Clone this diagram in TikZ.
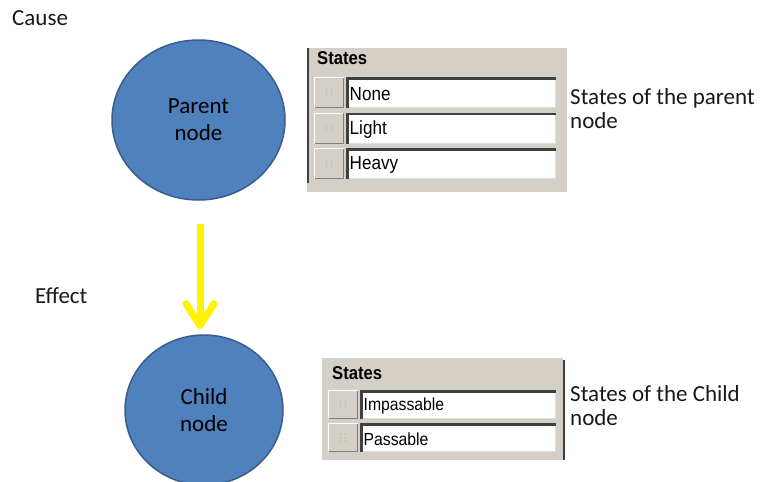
\documentclass[tikz,border=0pt]{standalone}
\usepackage{fontspec}
\setmainfont{Carlito}
\newfontfamily\panelfont[FakeStretch=0.9]{Liberation Sans}
\usepackage{tikz}
\usetikzlibrary{positioning,shapes.geometric,arrows.meta}

\definecolor{nodeblue}{HTML}{4F81BD}
\definecolor{nodeedge}{HTML}{385D8A}
\definecolor{panelgray}{HTML}{D4D0C8}
\definecolor{bevel}{HTML}{404040}

% one row of a states list: name, x, y, height, font size, text
\newcommand{\staterow}[6]{%
  \fill[panelgray] (#2,#3) rectangle ++(30,#4);
  \draw[white, line width=1pt] (#2+0.5,#3+#4) -- (#2+0.5,#3+0.5) -- (#2+30,#3+0.5);
  \draw[gray, line width=1pt] (#2+0.5,#3+#4-0.5) -- (#2+29.5,#3+#4-0.5) -- (#2+29.5,#3+0.5);
  \foreach \dx in {-2.5,2.5}
    \foreach \dy in {-3.5,0,3.5}
      \fill[gray!55] (#2+15+\dx,#3+#4/2+\dy) circle (0.9pt);
  \fill[white] (#2+32,#3) rectangle (556,#3+#4);
  \draw[panelgray!70!white, line width=1pt] (#2+32,#3+#4-0.5) -- (555.5,#3+#4-0.5) -- (555.5,#3);
  \draw[bevel, line width=2.5pt] (#2+33.25,#3+#4) -- (#2+33.25,#3+1.25) -- (556,#3+1.25);
  \node[rowtext, font=\panelfont\fontsize{#5}{#5}\selectfont, anchor=west] (#1) at (#2+35.5,#3+#4/2+1.5) {#6};
}

\begin{document}
\begin{tikzpicture}[x=1pt, y=-1pt,
    bnode/.style={ellipse, fill=nodeblue, draw=nodeedge, line width=1.5pt,
      align=center, text=black, font=\fontsize{23}{27}\selectfont},
    caption/.style={inner sep=0pt, text=black!90, font=\fontsize{23}{24}\selectfont, align=left},
    rowtext/.style={inner sep=0pt, text=black},
    paneltitle/.style={inner sep=0pt, font=\panelfont\bfseries\fontsize{18.5}{20}\selectfont},
    causal/.style={draw=yellow, line width=7pt,
      -{Straight Barb[length=22pt,width=28pt,round]}}]
  \useasboundingbox (0,0) rectangle (761,482);

  % nodes and arrow
  \node[bnode, minimum width=173pt, minimum height=160pt] (parent) at (198.5,120) {Parent\\node};
  \node[bnode, minimum width=158pt, minimum height=150pt] (child) at (204,410) {Child\\node};
  \draw[causal] ([xshift=1.5pt,yshift=-23pt]parent.south) -- ([xshift=-4pt,yshift=5pt]child.north);

  \node[caption, anchor=west] (cause) at (12,18) {Cause};
  \node[caption, anchor=west] (effect) at (35,296) {Effect};

  % states of the parent
  \fill[panelgray] (307,48) rectangle (567,192);
  \draw[bevel, line width=2pt] (308,48) -- (308,183);
  \node[paneltitle, anchor=west] (ptitle) at (317,58) {States};
  \staterow{pnone}{314}{77}{31}{19}{None}
  \staterow{plight}{314}{112.5}{31}{19}{Light}
  \staterow{pheavy}{314}{148}{31}{19}{Heavy}
  \node[caption, anchor=west] (pstates) at (570,108.5) {States of the parent\\node};

  % states of the child
  \fill[panelgray] (322,358) rectangle (563,460);
  \draw[bevel, line width=2pt] (564,360) -- (564,460);
  \node[paneltitle, anchor=west] (ctitle) at (332,373) {States};
  \staterow{cimp}{328}{390}{29}{17.5}{Impassable}
  \staterow{cpass}{328}{423}{29}{17.5}{Passable}
  \node[caption, anchor=west] (cstates) at (570,405.5) {States of the Child\\node};
\end{tikzpicture}
\end{document}
